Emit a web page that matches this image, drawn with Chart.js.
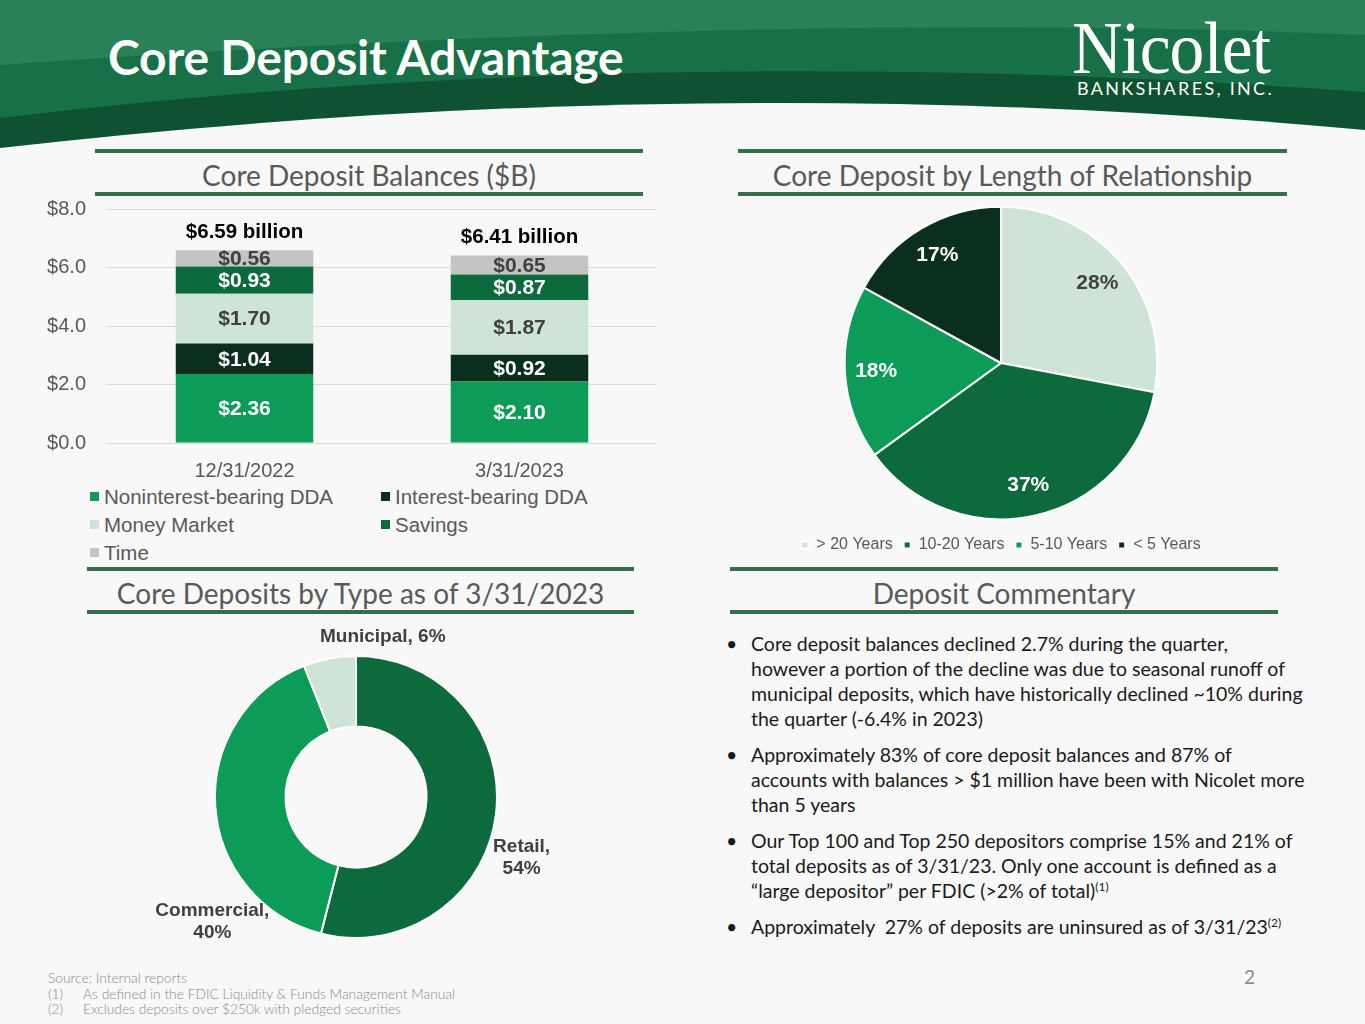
<!DOCTYPE html>
<html lang="en">
<head>
<meta charset="UTF-8"/>
<title>Core Deposit Advantage</title>
<script src="https://cdn.jsdelivr.net/npm/chart.js"></script>
<style>
  body { margin: 0; background: #f8f8f8; font-family: 'Lato', sans-serif; }
  .page { position: relative; width: 1365px; height: 1024px; overflow: hidden; background: #f8f8f8; }
  .header { position: absolute; left: 0; top: 0; }
  .title { position: absolute; left: 108px; top: 28px; color: #fff; font-size: 48px; font-weight: 700; letter-spacing: -0.2px; }
  .logo-main { position: absolute; left: 1072px; top: 6px; color: #fff; font-family: 'Liberation Serif', serif; font-size: 74px; transform: scaleX(0.94); transform-origin: left top; letter-spacing: -1px; }
  .logo-sub { position: absolute; left: 1077px; top: 77px; color: #fff; font-size: 18px; letter-spacing: 2.3px; }
  .section { position: absolute; height: 39px; border-top: 4px solid #356e4a; border-bottom: 4px solid #356e4a;
             text-align: center; line-height: 45px; color: #595959; font-size: 28px; }
  .box { position: absolute; }
  .legend { position: absolute; left: 90px; top: 485px; display: grid; grid-template-columns: 291px 260px;
            font-family: 'Liberation Sans', sans-serif; font-size: 20.5px; color: #595959; row-gap: 4px; }
  .legend span.sw { display: inline-block; width: 9px; height: 9px; margin: 0 5px 3px 0; }
  .notes { position: absolute; left: 722px; top: 631px; font-size: 19.5px; color: #1a1a1a; line-height: 25px; }
  .notes p { margin: 0 0 11px 0; padding-left: 29px; position: relative; white-space: nowrap; }
  .notes p::before { content: '\2022'; position: absolute; left: 4px; }
  .notes sup { font-size: 12px; line-height: 0; vertical-align: 7px; }
  .foot { position: absolute; left: 48px; top: 970px; font-size: 13.8px; color: #8a8a8a; line-height: 15.5px; font-weight: 300; }
  .foot .n { display: inline-block; width: 35px; }
  .pgno { position: absolute; left: 1244px; top: 965px; font-size: 19px; color: #8a8a8a; }
</style>
</head>
<body>
<div class="page">
  <svg class="header" width="1365" height="160" viewBox="0 0 1365 160">
    <rect x="0" y="0" width="1365" height="160" fill="#177046"/>
    <path d="M0,0 L1365,0 L1365,35 Q800,10 0,65 Z" fill="#2a8157"/>
    <path d="M0,118 Q650,40 1365,92 L1365,140 L0,160 Z" fill="#0f5231"/>
    <path d="M0,148 Q700,68 1365,130 L1365,160 L0,160 Z" fill="#f8f8f8"/>
  </svg>
  <div class="title">Core Deposit Advantage</div>
  <div class="logo-main">Nicolet</div>
  <div class="logo-sub">BANKSHARES, INC.</div>

  <div class="section" style="left:95px; top:149px; width:548px;">Core Deposit Balances ($B)</div>
  <div class="section" style="left:738px; top:149px; width:549px;">Core Deposit by Length of Relationship</div>
  <div class="section" style="left:87px; top:567px; width:547px;">Core Deposits by Type as of 3/31/2023</div>
  <div class="section" style="left:730px; top:567px; width:548px;">Deposit Commentary</div>

  <div class="box" style="left:30px; top:176px; width:640px; height:304px;"><canvas id="barChart"></canvas></div>
  <div class="legend" id="barLegend"></div>

  <div class="box" style="left:736px; top:200px; width:530px; height:363px;"><canvas id="pieChart"></canvas></div>

  <div class="box" style="left:106px; top:620px; width:500px; height:340px;"><canvas id="donutChart"></canvas></div>

  <div class="notes">
    <p>Core deposit balances declined 2.7% during the quarter,<br>however a portion of the decline was due to seasonal runoff of<br>municipal deposits, which have historically declined ~10% during<br>the quarter (-6.4% in 2023)</p>
    <p>Approximately 83% of core deposit balances and 87% of<br>accounts with balances &gt; $1 million have been with Nicolet more<br>than 5 years</p>
    <p>Our Top 100 and Top 250 depositors comprise 15% and 21% of<br>total deposits as of 3/31/23. Only one account is defined as a<br>&ldquo;large depositor&rdquo; per FDIC (&gt;2% of total)<sup>(1)</sup></p>
    <p>Approximately&nbsp; 27% of deposits are uninsured as of 3/31/23<sup>(2)</sup></p>
  </div>

  <div class="foot">
    Source: Internal reports<br>
    <span class="n">(1)</span>As defined in the FDIC Liquidity &amp; Funds Management Manual<br>
    <span class="n">(2)</span>Excludes deposits over $250k with pledged securities
  </div>
  <div class="pgno">2</div>
</div>

<script>
  // Core deposit balances ($B)
  const periods = ['12/31/2022', '3/31/2023'];
  const seriesNames = ['Noninterest-bearing DDA', 'Interest-bearing DDA', 'Money Market', 'Savings', 'Time'];
  const nonintDDA = [2.36, 2.10];
  const intDDA = [1.04, 0.92];
  const moneyMarket = [1.70, 1.87];
  const savings = [0.93, 0.87];
  const timeDep = [0.56, 0.65];
  const yTicks = [0, 2, 4, 6, 8];

  // Length of relationship (%)
  const tenureLabels = ['> 20 Years', '10-20 Years', '5-10 Years', '< 5 Years'];
  const tenureShares = [28, 37, 18, 17];

  // Deposit type (%)
  const typeLabels = ['Retail', 'Commercial', 'Municipal'];
  const typeShares = [54, 40, 6];

  const BRIGHT = '#0c9c57', DARKEST = '#0b2f1e', LIGHT = '#cee4d7', DARK = '#0c6a3d', GREY = '#c4c4c4';
  const barColors = [BRIGHT, DARKEST, LIGHT, DARK, GREY];
  const barTextColors = ['#fff', '#fff', '#404040', '#fff', '#404040'];
  const seriesData = [nonintDDA, intDDA, moneyMarket, savings, timeDep];

  const barLabels = {
    id: 'barLabels',
    afterDatasetsDraw(chart) {
      const ctx = chart.ctx;
      ctx.save();
      ctx.textAlign = 'center';
      ctx.textBaseline = 'middle';
      ctx.font = 'bold 21px "Liberation Sans"';
      chart.data.datasets.forEach((ds, i) => {
        chart.getDatasetMeta(i).data.forEach((bar, j) => {
          ctx.fillStyle = barTextColors[i];
          ctx.fillText('$' + ds.data[j].toFixed(2), bar.x, (bar.y + bar.base) / 2 + 1);
        });
      });
      // totals above each stack
      const last = chart.getDatasetMeta(chart.data.datasets.length - 1).data;
      ctx.fillStyle = '#000';
      ctx.font = 'bold 20.5px "Liberation Sans"';
      last.forEach((bar, j) => {
        const total = chart.data.datasets.reduce((s, d) => s + d.data[j], 0);
        ctx.fillText('$' + total.toFixed(2) + ' billion', bar.x, bar.y - 18);
      });
      ctx.restore();
    }
  };

  new Chart(document.getElementById('barChart'), {
    type: 'bar',
    data: {
      labels: periods,
      datasets: seriesNames.map((name, i) => ({
        label: name,
        data: seriesData[i],
        backgroundColor: barColors[i],
        barPercentage: 0.5,
        categoryPercentage: 1
      }))
    },
    options: {
      responsive: true,
      maintainAspectRatio: false,
      animation: false,
      layout: { padding: { top: 0, right: 13 } },
      plugins: { legend: { display: false }, tooltip: { enabled: false } },
      scales: {
        x: {
          stacked: true,
          grid: { display: false },
          border: { display: false },
          ticks: { color: '#595959', font: { family: 'Liberation Sans', size: 20 }, padding: 8 },
          afterFit(s) { s.height = 37; }
        },
        y: {
          stacked: true,
          min: yTicks[0],
          max: yTicks[yTicks.length - 1],
          afterBuildTicks(s) { s.ticks = yTicks.map(v => ({ value: v })); },
          grid: { color: '#d9d9d9', drawTicks: false },
          border: { display: false },
          ticks: {
            color: '#595959', font: { family: 'Liberation Sans', size: 20 }, padding: 21,
            callback: v => '$' + v.toFixed(1)
          },
          afterFit(s) { s.width = 77; }
        }
      }
    },
    plugins: [barLabels]
  });

  // HTML legend laid out in two columns
  const legendEl = document.getElementById('barLegend');
  seriesNames.forEach((name, i) => {
    const d = document.createElement('div');
    d.innerHTML = '<span class="sw" style="background:' + barColors[i] + '"></span>' + name;
    legendEl.appendChild(d);
  });

  const pieColors = [LIGHT, DARK, BRIGHT, DARKEST];
  const pieLabels = {
    id: 'pieLabels',
    afterDatasetsDraw(chart) {
      const ctx = chart.ctx;
      ctx.save();
      ctx.font = 'bold 21px "Liberation Sans"';
      ctx.textAlign = 'center';
      ctx.textBaseline = 'middle';
      chart.getDatasetMeta(0).data.forEach((arc, i) => {
        const a = (arc.startAngle + arc.endAngle) / 2;
        const r = arc.outerRadius * 0.8;
        ctx.fillStyle = i === 0 ? '#404040' : '#fff';
        ctx.fillText(chart.data.datasets[0].data[i] + '%', arc.x + Math.cos(a) * r, arc.y + Math.sin(a) * r);
      });
      ctx.restore();
    }
  };

  new Chart(document.getElementById('pieChart'), {
    type: 'pie',
    data: {
      labels: tenureLabels,
      datasets: [{ data: tenureShares, backgroundColor: pieColors, borderColor: '#fff', borderWidth: 2 }]
    },
    options: {
      responsive: true,
      maintainAspectRatio: false,
      animation: false,
      radius: '96.5%',
      plugins: {
        tooltip: { enabled: false },
        legend: {
          position: 'bottom',
          labels: { boxWidth: 7, boxHeight: 7, padding: 11, color: '#595959',
                    font: { family: 'Liberation Sans', size: 16 } }
        }
      }
    },
    plugins: [pieLabels]
  });

  // outside labels for the doughnut; angle in degrees clockwise from top, dist as share of outer radius
  const donutLabels = {
    id: 'donutLabels',
    afterDatasetsDraw(chart, args, opts) {
      const ctx = chart.ctx;
      ctx.save();
      ctx.font = 'bold 19px "Liberation Sans"';
      ctx.fillStyle = '#404040';
      ctx.textAlign = 'center';
      ctx.textBaseline = 'middle';
      chart.getDatasetMeta(0).data.forEach((arc, i) => {
        const p = opts.place[i];
        const a = (p.angle - 90) * Math.PI / 180;
        const x = arc.x + Math.cos(a) * arc.outerRadius * p.dist;
        const y = arc.y + Math.sin(a) * arc.outerRadius * p.dist;
        const name = chart.data.labels[i] + ',';
        const pct = chart.data.datasets[0].data[i] + '%';
        if (p.wrap) {
          ctx.fillText(name, x, y - 11);
          ctx.fillText(pct, x, y + 11);
        } else {
          ctx.fillText(name + ' ' + pct, x, y);
        }
      });
      ctx.restore();
    }
  };

  new Chart(document.getElementById('donutChart'), {
    type: 'doughnut',
    data: {
      labels: typeLabels,
      datasets: [{ data: typeShares, backgroundColor: [DARK, BRIGHT, LIGHT], borderColor: '#fff', borderWidth: 2 }]
    },
    options: {
      responsive: true,
      maintainAspectRatio: false,
      animation: false,
      cutout: '50%',
      layout: { padding: { top: 35, bottom: 21 } },
      plugins: {
        legend: { display: false },
        tooltip: { enabled: false },
        donutLabels: {
          place: [
            { angle: 110, dist: 1.25, wrap: true },
            { angle: 229, dist: 1.35, wrap: true },
            { angle: 9.5, dist: 1.15, wrap: false }
          ]
        }
      }
    },
    plugins: [donutLabels]
  });
</script>
</body>
</html>
